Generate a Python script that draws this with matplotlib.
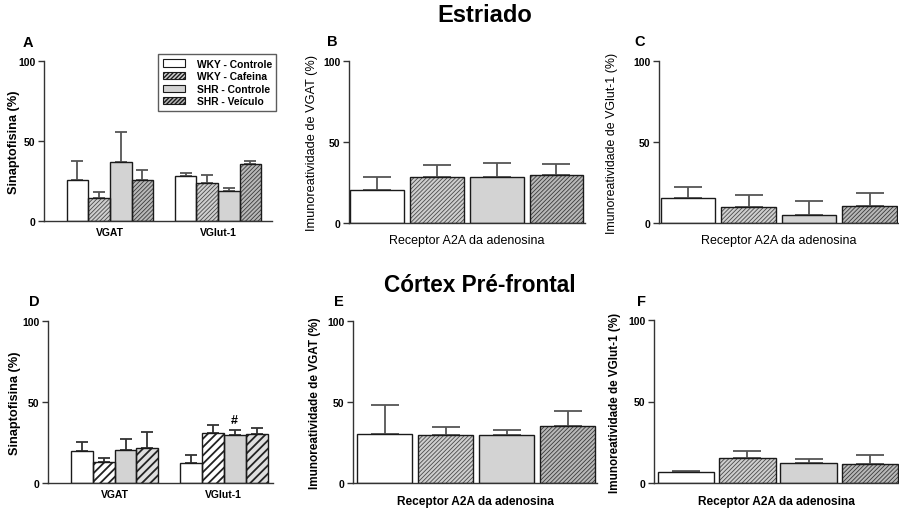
import matplotlib
matplotlib.use("Agg")
import matplotlib.pyplot as plt
from matplotlib.patches import Patch
import numpy as np

plt.rcParams['font.family'] = ['Liberation Sans', 'DejaVu Sans']

W, H = 899, 510

groups = ["WKY - Controle", "WKY - Cafeina", "SHR - Controle", "SHR - Veículo"]
markers_ab = ["VGAT", "VGlut-1"]

# Estriado
a_vgat_mean = [25.6, 14.6, 36.8, 25.6]
a_vgat_sem = [11.8, 3.5, 18.7, 6.4]
a_vglut_mean = [28.1, 23.5, 18.5, 35.6]
a_vglut_sem = [1.9, 5.0, 2.1, 2.0]
b_mean = [20.3, 28.7, 28.7, 29.7]
b_sem = [8.4, 7.4, 8.6, 6.6]
c_mean = [15.4, 10.1, 4.9, 10.7]
c_sem = [6.6, 6.9, 8.4, 8.0]

# Córtex pré-frontal
d_vgat_mean = [19.8, 12.8, 20.4, 21.9]
d_vgat_sem = [5.6, 2.9, 6.6, 9.6]
d_vglut_mean = [12.6, 31.1, 29.7, 30.1]
d_vglut_sem = [4.5, 4.5, 2.9, 3.7]
e_mean = [30.5, 29.5, 29.5, 35.2]
e_sem = [17.9, 5.1, 3.5, 9.3]
f_mean = [6.7, 15.5, 12.2, 11.4]
f_sem = [0.4, 4.1, 2.3, 5.7]

yticks = [0, 50, 100]

fig = plt.figure(figsize=(W / 100, H / 100), dpi=100)
fig.patch.set_facecolor("white")


def make_axes(x0, x1, ybottom, ytop):
    ax = fig.add_axes([x0 / W, 1 - ybottom / H, (x1 - x0) / W, (ybottom - ytop) / H])
    ax._px = (x0, x1)
    return ax


# fine-hatch style (top row, E, F) and coarse-hatch style (D)
fine_styles = [
    dict(face="white", hatch=None, hcolor=None),
    dict(face="#cfcfcf", hatch="/" * 8, hcolor="#4a4a4a"),
    dict(face="#d3d3d3", hatch=None, hcolor=None),
    dict(face="#b8b8b8", hatch="/" * 8, hcolor="#3a3a3a"),
]
coarse_styles = [
    dict(face="white", hatch=None, hcolor=None),
    dict(face="white", hatch="////", hcolor="#222222"),
    dict(face="#d3d3d3", hatch=None, hcolor=None),
    dict(face="#dedede", hatch="////", hcolor="#222222"),
]


def draw_bars(ax, xs, means, sems, width, styles, hatch_lw, capsize, err_color):
    for x, m, s, st in zip(xs, means, sems, styles):
        fill = ax.bar(x, m, width, color=st["face"], linewidth=0, zorder=2)
        if st["hatch"]:
            for p in fill:
                p.set_hatch(st["hatch"])
                p.set_edgecolor(st["hcolor"])
                if hasattr(p, "set_hatch_linewidth"):
                    p.set_hatch_linewidth(hatch_lw)
        ax.bar(x, m, width, fill=False, edgecolor="#1a1a1a", linewidth=1.0, zorder=3)
        ax.errorbar(x, m, yerr=[[0], [s]], fmt="none", ecolor=err_color,
                    elinewidth=1.3, capsize=capsize, capthick=1.3, zorder=1)


def style_axes(ax, xlim, ylabel, ylabel_bold, label_x, fs):
    ax.set_ylim(0, 100)
    ax.set_xlim(*xlim)
    ax.set_yticks(yticks)
    ax.set_yticklabels([str(t) for t in yticks], fontweight="bold", fontsize=7.5)
    ax.tick_params(axis="y", length=4, width=1, pad=2, color="#333333")
    ax.tick_params(axis="x", length=0)
    for sp in ["top", "right"]:
        ax.spines[sp].set_visible(False)
    for sp in ["left", "bottom"]:
        ax.spines[sp].set_linewidth(1.0)
        ax.spines[sp].set_color("#333333")
    ax.set_ylabel(ylabel, fontsize=fs, fontweight="bold" if ylabel_bold else "normal")
    ax.yaxis.label.set_va("center")
    x0, x1 = ax._px
    ax.yaxis.set_label_coords((label_x - x0) / (x1 - x0), 0.5)
    ax.set_facecolor("none")


# ---------- A ----------
axA = make_axes(44, 272, 222, 62)
bw = 0.2
offs = (np.arange(4) - 1.5) * bw
for gi, (mn, se) in enumerate([(a_vgat_mean, a_vgat_sem), (a_vglut_mean, a_vglut_sem)]):
    draw_bars(axA, gi + offs, mn, se, bw, fine_styles, 0.6, 4, "#555555")
style_axes(axA, (-0.61, 1.5), "Sinaptofisina (%)", True, 14, 9.2)
axA.set_xticks([0, 1])
axA.set_xticklabels(markers_ab, fontweight="bold", fontsize=7.5)
axA.tick_params(axis="x", pad=4)

# legend
handles = []
for st in fine_styles:
    h = Patch(facecolor=st["face"], edgecolor="#1a1a1a", linewidth=0.8,
              hatch=st["hatch"])
    handles.append(h)
leg = fig.legend(handles, groups, loc="upper left",
                 bbox_to_anchor=(158 / W, 1 - 55 / H), frameon=True, fancybox=False,
                 prop=dict(weight="bold", size=7.4), handlelength=2.2, handleheight=0.7,
                 handletextpad=1.1, labelspacing=0.25, borderpad=0.45, borderaxespad=0)
leg.get_frame().set_edgecolor("#333333")
leg.get_frame().set_linewidth(1.0)

# ---------- B ----------
xs4 = np.arange(4)
axB = make_axes(349, 585, 224, 62)
draw_bars(axB, xs4, b_mean, b_sem, 0.9, fine_styles, 0.6, 10, "#555555")
style_axes(axB, (-0.475, 3.48), "Imunoreatividade de VGAT (%)", False, 312, 9.2)
axB.set_xticks([])
axB.set_xlabel("Receptor A2A da adenosina", fontsize=9, labelpad=8)

# ---------- C ----------
axC = make_axes(659, 898, 224, 62)
draw_bars(axC, xs4, c_mean, c_sem, 0.9, fine_styles, 0.6, 10, "#555555")
style_axes(axC, (-0.483, 3.47), "Imunoreatividade de VGlut-1 (%)", False, 612, 8.9)
axC.set_xticks([])
axC.set_xlabel("Receptor A2A da adenosina", fontsize=9, labelpad=8)

# ---------- D ----------
axD = make_axes(48, 273, 484, 322)
for gi, (mn, se) in enumerate([(d_vgat_mean, d_vgat_sem), (d_vglut_mean, d_vglut_sem)]):
    draw_bars(axD, gi + offs, mn, se, bw, coarse_styles, 1.3, 4, "#333333")
style_axes(axD, (-0.61, 1.45), "Sinaptofisina (%)", True, 15, 9.2)
axD.set_xticks([0, 1])
axD.set_xticklabels(markers_ab, fontweight="bold", fontsize=7.5)
axD.tick_params(axis="x", pad=4)
# significance mark over SHR - Controle, VGlut-1
xi = 1 + offs[2]
axD.annotate("#", (xi, d_vglut_mean[2] + d_vglut_sem[2]), xytext=(0, 3),
             textcoords="offset points", ha="center", va="bottom",
             fontsize=9, fontweight="bold")

# ---------- E ----------
axE = make_axes(353, 597, 484, 322)
draw_bars(axE, xs4, e_mean, e_sem, 0.9, fine_styles, 0.6, 10, "#555555")
style_axes(axE, (-0.52, 3.48), "Imunoreatividade de VGAT (%)", True, 315, 8.5)
axE.set_xticks([])
axE.set_xlabel("Receptor A2A da adenosina", fontsize=8.6, fontweight="bold", labelpad=9)

# ---------- F ----------
axF = make_axes(654, 899, 484, 321)
draw_bars(axF, xs4, f_mean, f_sem, 0.92, fine_styles, 0.6, 10, "#555555")
style_axes(axF, (-0.53, 3.48), "Imunoreatividade de VGlut-1 (%)", True, 615, 8.4)
axF.set_xticks([])
axF.set_xlabel("Receptor A2A da adenosina", fontsize=8.6, fontweight="bold", labelpad=9)

# panel letters
for letter, (px, py) in zip("ABCDEF", [(28, 43), (332, 42), (640, 42),
                                       (34, 302), (339, 302), (642, 302)]):
    fig.text(px / W, 1 - py / H, letter, fontsize=10.5, fontweight="bold",
             ha="center", va="center")

# section titles
fig.text(485 / W, 1 - 16 / H, "Estriado", fontsize=17, fontweight="bold",
         ha="center", va="center")
fig.text(480 / W, 1 - 285 / H, "Córtex Pré-frontal", fontsize=16.3, fontweight="bold",
         ha="center", va="center")

fig.savefig("out.png", dpi=100, facecolor="white")
